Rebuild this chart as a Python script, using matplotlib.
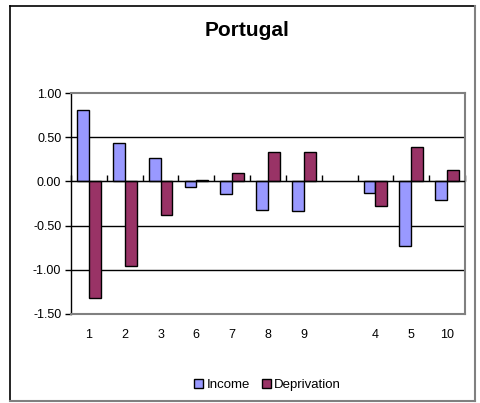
import numpy as np
import matplotlib
matplotlib.use("Agg")
import matplotlib.pyplot as plt
from matplotlib.lines import Line2D

plt.rcParams['font.family'] = ['Liberation Sans', 'DejaVu Sans']

categories = ['1', '2', '3', '6', '7', '8', '9', '', '4', '5', '10']
income = [0.81, 0.43, 0.26, -0.06, -0.14, -0.32, -0.34, np.nan, -0.13, -0.73, -0.21]
deprivation = [-1.32, -0.96, -0.38, 0.02, 0.09, 0.33, 0.33, np.nan, -0.28, 0.39, 0.13]
yticks = [-1.5, -1.0, -0.5, 0.0, 0.5, 1.0]

W, H = 480, 403
fig = plt.figure(figsize=(W / 100, H / 100), dpi=100)
ax = fig.add_axes([71 / W, 1 - 314 / H, (465 - 71) / W, (314 - 93) / H])

x = np.arange(len(categories))
bw = 0.33
ax.bar(x - bw / 2, income, bw, color='#9999FF', edgecolor='black', linewidth=1.0, label='Income', zorder=3)
ax.bar(x + bw / 2, deprivation, bw, color='#993366', edgecolor='black', linewidth=1.0, label='Deprivation', zorder=3)

ax.set_xlim(-0.5, len(categories) - 0.5)
ax.set_ylim(-1.5, 1.0)
ax.set_yticks(yticks)
ax.set_yticklabels([f'{v:.2f}' for v in yticks])
for v in yticks[1:-1]:
    if v != 0:
        ax.axhline(v, color='black', linewidth=1.0, zorder=1)
ax.axhline(0, color='black', linewidth=1.0, zorder=4)

ax.set_xticks(x)
ax.set_xticklabels(categories)
ax.tick_params(axis='x', length=0, pad=11, labelsize=9)
ax.tick_params(axis='y', direction='out', length=4, width=1, pad=3, labelsize=9)

for s in ['top', 'right', 'bottom']:
    ax.spines[s].set_color('#808080')
    ax.spines[s].set_linewidth(1.5)
ax.spines['left'].set_color('black')
ax.spines['left'].set_linewidth(1.0)

# tick marks on the zero line at category boundaries
zero_frac = (0 - (-1.5)) / 2.5
sec = ax.secondary_xaxis(zero_frac)
sec.set_xticks(np.arange(len(categories) + 1) - 0.5)
sec.set_xticklabels([])
sec.tick_params(direction='out', length=4, width=1, color='black')
sec.spines['bottom'].set_visible(False)

# outer frame
x0, x1 = 10 / W, 475 / W
y0, y1 = 1 - 401 / H, 1 - 6 / H
fig.add_artist(Line2D([x0, x0], [y0, y1], color='black', lw=1.2, transform=fig.transFigure))
fig.add_artist(Line2D([x0, x1], [y1, y1], color='black', lw=1.2, transform=fig.transFigure))
fig.add_artist(Line2D([x1, x1], [y0, y1], color='#808080', lw=1.5, transform=fig.transFigure))
fig.add_artist(Line2D([x0, x1], [y0, y0], color='#808080', lw=1.5, transform=fig.transFigure))

fig.text(247 / W, 1 - 31 / H, 'Portugal', fontsize=15, fontweight='bold', ha='center', va='center')

fig.legend(loc='center', bbox_to_anchor=(267.5 / W, 1 - 385 / H), ncol=2, frameon=False,
           fontsize=9.5, handlelength=0.7, handleheight=0.7, handletextpad=0.25,
           columnspacing=0.9, borderaxespad=0)

fig.savefig('out.png', dpi=100)
